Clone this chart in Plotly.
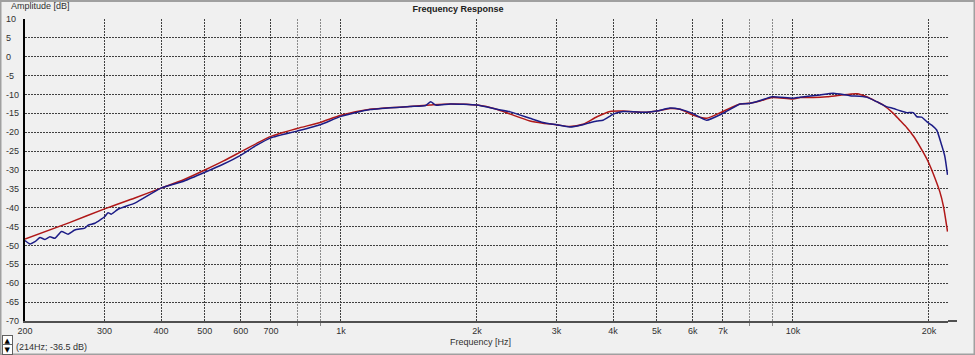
import plotly.graph_objects as go

# ---- data ----
red_freq = [200, 250, 300, 350, 400, 450, 500, 550, 600, 650, 700, 800, 900, 1000,
            1160, 1420, 1575, 1745, 2000, 2210, 2370, 2620, 2800, 3000, 3210, 3430,
            3685, 3940, 4210, 4750, 5000, 5345, 5625, 6000, 6440, 7000, 7640, 8000,
            8460, 9000, 10000, 10370, 11070, 11900, 12710, 13870, 14560, 15320, 15850,
            16680, 17260, 17870, 18470, 19100, 19770, 20090, 20440, 21140, 21520, 21980]
red_db = [-48.3, -44.0, -40.3, -37.4, -34.8, -32.5, -30.0, -27.6, -25.2, -23.0, -21.1,
          -19.0, -17.4, -15.5, -13.9, -13.2, -12.8, -12.5, -12.8, -13.9, -15.2, -17.0,
          -17.6, -18.0, -18.5, -17.9, -15.9, -14.5, -14.4, -14.7, -14.4, -13.7, -13.9,
          -15.4, -16.3, -14.5, -12.5, -12.3, -11.7, -10.8, -11.2, -10.8, -10.8, -10.6,
          -10.2, -9.8, -10.6, -11.9, -12.8, -15.0, -16.9, -18.8, -21.0, -23.8, -27.0,
          -28.8, -31.0, -35.8, -39.5, -46.3]

blue_freq = [200, 205.2, 210.4, 215.8, 221.4, 227.1, 232.9, 240.9, 249.1, 257.7, 271.1,
             276.0, 285.5, 300, 305.3, 310.5, 321.2, 350.9, 400, 450, 500, 550, 600, 650,
             700, 800, 900, 1000, 1160, 1420, 1540, 1580, 1620, 1745, 2000, 2210, 2370,
             2620, 2800, 3000, 3210, 3430, 3550, 3685, 3800, 3940, 4000, 4210, 4750, 5000,
             5345, 5625, 6000, 6440, 7000, 7640, 8000, 8460, 9000, 10000, 10370, 11480,
             12280, 13370, 14560, 15320, 16110, 16680, 17260, 17870, 18470, 18800, 19270,
             19770, 20280, 20800, 21330, 21690, 21980]
blue_db = [-48.7, -49.6, -49.0, -47.9, -48.4, -47.7, -48.1, -46.3, -47.0, -45.9, -45.4,
           -44.6, -44.1, -42.4, -41.3, -41.7, -40.4, -38.7, -34.8, -32.9, -30.6, -28.4,
           -26.1, -23.5, -21.5, -19.7, -18.0, -15.8, -14.0, -13.2, -12.9, -11.9, -12.8,
           -12.5, -12.8, -13.9, -14.6, -16.3, -17.4, -18.0, -18.6, -18.0, -17.5, -17.0,
           -16.8, -15.7, -15.2, -14.5, -14.7, -14.4, -13.6, -13.9, -15.0, -16.8, -15.0,
           -12.5, -12.4, -11.6, -10.6, -11.0, -10.7, -10.1, -9.7, -10.3, -10.7, -11.9,
           -13.2, -13.7, -14.3, -14.8, -14.8, -15.9, -16.0, -17.2, -18.1, -19.4, -23.4,
           -26.5, -31.3]

x_tickvals = [200, 300, 400, 500, 600, 700, 1000, 2000, 3000, 4000, 5000, 6000, 7000, 10000, 20000]
x_ticktext = ["200", "300", "400", "500", "600", "700", "1k", "2k", "3k", "4k", "5k", "6k", "7k", "10k", "20k"]
x_minor = [800, 900, 8000, 9000]
y_ticks = [10, 5, 0, -5, -10, -15, -20, -25, -30, -35, -40, -45, -50, -55, -60, -65, -70]

FONT = "Liberation Sans"
TXT = "#303030"

fig = go.Figure()
fig.add_trace(go.Scatter(x=red_freq, y=red_db, mode="lines",
                         line=dict(color="#b01818", width=1.5, shape="spline", smoothing=0.7),
                         hoverinfo="skip"))
fig.add_trace(go.Scatter(x=blue_freq, y=blue_db, mode="lines",
                         line=dict(color="#1c1c86", width=1.5, shape="spline", smoothing=0.5),
                         hoverinfo="skip"))

W, H = 975, 355
L, R, T, B = 25, 27, 19, 34
pw, ph = W - L - R, H - T - B

def px(xp):
    return (xp - L) / pw

def py(yp):
    return (H - B - yp) / ph

annotations = []
for v in y_ticks:
    annotations.append(dict(x=px(4), y=v, xref="paper", yref="y", text=str(v),
                            showarrow=False, xanchor="left", yanchor="middle",
                            font=dict(family=FONT, size=9, color=TXT)))
annotations += [
    dict(x=px(9), y=py(6), xref="paper", yref="paper", text="Amplitude [dB]",
         showarrow=False, xanchor="left", yanchor="middle",
         font=dict(family=FONT, size=9, color=TXT)),
    dict(x=px(480), y=py(342), xref="paper", yref="paper", text="Frequency [Hz]",
         showarrow=False, xanchor="center", yanchor="middle",
         font=dict(family=FONT, size=9, color=TXT)),
    dict(x=px(14), y=py(347), xref="paper", yref="paper", text="(214Hz; -36.5 dB)",
         showarrow=False, xanchor="left", yanchor="middle",
         font=dict(family=FONT, size=9, color=TXT)),
    dict(x=px(7.5), y=py(340), xref="paper", yref="paper", text="▲",
         showarrow=False, xanchor="center", yanchor="middle", borderpad=1,
         width=7, height=7, align="center", valign="middle",
         bgcolor="#ffffff", bordercolor="#606060", borderwidth=1,
         font=dict(family="DejaVu Sans", size=7, color="#000")),
    dict(x=px(7.5), y=py(349.5), xref="paper", yref="paper", text="▼",
         showarrow=False, xanchor="center", yanchor="middle", borderpad=1,
         width=7, height=7, align="center", valign="middle",
         bgcolor="#ffffff", bordercolor="#606060", borderwidth=1,
         font=dict(family="DejaVu Sans", size=7, color="#000")),
]

shapes = [
    dict(type="rect", xref="paper", yref="paper", x0=px(0.5), x1=px(W - 0.5),
         y0=py(H - 0.5), y1=py(1), line=dict(color="#a0a0a0", width=2), layer="below"),
    dict(type="line", xref="paper", yref="paper", x0=px(948), x1=px(957),
         y0=0, y1=0, line=dict(color="#505050", width=2)),
]

fig.update_layout(
    width=W, height=H,
    margin=dict(l=L, r=R, t=T, b=B),
    paper_bgcolor="#f0f0f0", plot_bgcolor="#f0f0f0",
    showlegend=False, hovermode=False,
    title=dict(text="<b>Frequency Response</b>", x=458 / W, xanchor="center",
               y=1 - 9 / H, yanchor="middle",
               font=dict(family=FONT, size=9, color="#202020")),
    xaxis=dict(type="log", range=[2.30103, 4.3431],
               tickmode="array", tickvals=x_tickvals, ticktext=x_ticktext,
               showgrid=True, gridcolor="#404040", griddash="2px,1px", gridwidth=1,
               minor=dict(tickmode="array", tickvals=x_minor, showgrid=True,
                          gridcolor="#8a8a8a", griddash="2px,1px", gridwidth=1,
                          ticks="outside", ticklen=3, tickcolor="#8a8a8a"),
               showline=True, linecolor="#505050", linewidth=2,
               ticks="", zeroline=False,
               tickfont=dict(family=FONT, size=9, color=TXT)),
    yaxis=dict(range=[-70, 10], tickmode="array", tickvals=y_ticks,
               showticklabels=False, showgrid=True, gridcolor="#404040",
               griddash="2px,1px", gridwidth=1,
               showline=True, linecolor="#000000", linewidth=2,
               zeroline=False, ticks=""),
    annotations=annotations,
    shapes=shapes,
)

fig.write_html("out.html", config={"displayModeBar": False, "staticPlot": True})
